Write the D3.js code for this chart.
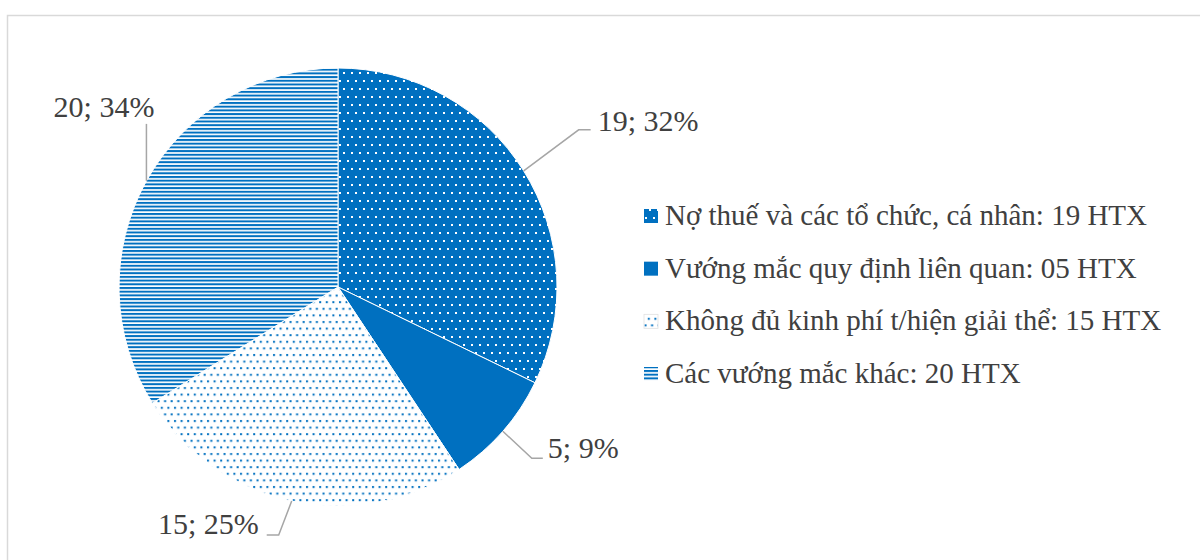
<!DOCTYPE html>
<html><head><meta charset="utf-8">
<script src="https://cdn.jsdelivr.net/npm/d3@7/dist/d3.min.js"></script>
<style>body{margin:0;background:#fff}svg{display:block}</style>
</head><body>
<svg id="chart" width="1200" height="560"></svg>
<script>
const categories = [
  "Nợ thuế và các tổ chức, cá nhân: 19 HTX",
  "Vướng mắc quy định liên quan: 05 HTX",
  "Không đủ kinh phí t/hiện giải thể: 15 HTX",
  "Các vướng mắc khác: 20 HTX"
];
const values = [19, 5, 15, 20];
const percentLabels = ["32%", "9%", "25%", "34%"];

const W = 1200, H = 560;
const cx = 338, cy = 287, R = 219;
const BLUE = "#0070C0";
const TEXT = "#404040";
const FONT = "'Liberation Serif','Times New Roman',serif";

// label layout (leader elbow offset from slice edge, horizontal tail, text anchor)
const labelLayout = [
  {dx: 55, dy: -41, h: 12, anchor: "start", tx: 7, ty: 1},
  {dx: 29, dy: 27, h: 11, anchor: "start", tx: 5, ty: 0},
  {dx: -13, dy: 34, h: -12, anchor: "end", tx: -8, ty: -1},
  {dx: 0, dy: -57, h: 0, anchor: "end", tx: 8, ty: -7}
];

const svg = d3.select("#chart");
const defs = svg.append("defs");

// patterns
const p0 = defs.append("pattern").attr("id","pat0").attr("patternUnits","userSpaceOnUse")
  .attr("width",8).attr("height",16);
p0.append("rect").attr("width",8).attr("height",16).attr("fill",BLUE);
p0.append("rect").attr("x",1).attr("y",1).attr("width",2).attr("height",2).attr("fill","#fff");
p0.append("rect").attr("x",5).attr("y",9).attr("width",2).attr("height",2).attr("fill","#fff");

const p2 = defs.append("pattern").attr("id","pat2").attr("patternUnits","userSpaceOnUse")
  .attr("width",6.6).attr("height",13.2);
p2.append("rect").attr("width",6.6).attr("height",13.2).attr("fill","#fff");
p2.append("rect").attr("x",1).attr("y",1).attr("width",2).attr("height",2).attr("fill",BLUE);
p2.append("rect").attr("x",4.3).attr("y",7.6).attr("width",2).attr("height",2).attr("fill",BLUE);

const p3 = defs.append("pattern").attr("id","pat3").attr("patternUnits","userSpaceOnUse")
  .attr("width",8).attr("height",3.7);
p3.append("rect").attr("width",8).attr("height",3.7).attr("fill","#fff");
p3.append("rect").attr("y",0).attr("width",8).attr("height",2).attr("fill",BLUE);

const fills = ["url(#pat0)", BLUE, "url(#pat2)", "url(#pat3)"];

// chart border
svg.append("rect").attr("x",7.5).attr("y",15.5).attr("width",W+10).attr("height",H)
  .attr("fill","none").attr("stroke","#d9d9d9").attr("stroke-width",1.5);

const pie = d3.pie().sort(null).value(d => d)(values);
const arc = d3.arc().innerRadius(0).outerRadius(R);
const edge = d3.arc().innerRadius(R).outerRadius(R);

const g = svg.append("g").attr("transform", `translate(${cx},${cy})`);
g.selectAll("path.slice").data(pie).join("path").attr("class","slice")
  .attr("d", arc).attr("fill", (d,i) => fills[i])
  .attr("stroke","#fff").attr("stroke-width",1);

// leader lines and labels
pie.forEach((d, i) => {
  const [ex, ey] = edge.centroid(d);
  const L = labelLayout[i];
  const bx = ex + L.dx, by = ey + L.dy;
  const tx = bx + L.h;
  g.append("polyline")
    .attr("points", `${ex},${ey} ${bx},${by} ${tx},${by}`)
    .attr("fill","none").attr("stroke","#a6a6a6").attr("stroke-width",1.5);
  g.append("text").attr("x", tx + L.tx).attr("y", by + L.ty)
    .attr("text-anchor", L.anchor)
    .attr("font-family", FONT).attr("font-size", 30).attr("fill", TEXT)
    .text(`${values[i]}; ${percentLabels[i]}`);
});

// legend
const y = d3.scalePoint().domain(d3.range(categories.length)).range([216, 374]);
const lg = svg.append("g");
categories.forEach((c, i) => {
  lg.append("rect").attr("x",644).attr("y",y(i)-7).attr("width",14).attr("height",14)
    .attr("fill", fills[i]).attr("stroke", i===2 ? "#e0e0e0" : "none").attr("stroke-width",0.8);
  lg.append("text").attr("x",665).attr("y",y(i)+9)
    .attr("font-family",FONT).attr("font-size",29).attr("fill",TEXT).text(c);
});
</script>
</body></html>
